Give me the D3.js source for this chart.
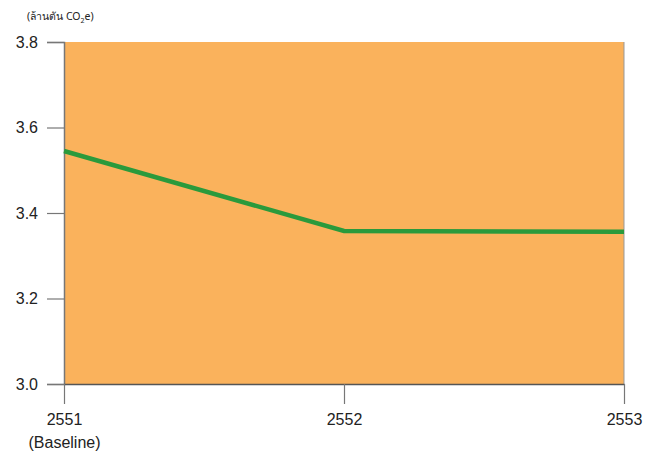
<!DOCTYPE html>
<html><head><meta charset="utf-8">
<script src="https://cdn.jsdelivr.net/npm/d3@7"></script>
<style>body{margin:0;background:#fff;} text{font-family:"Liberation Sans",Arial,sans-serif;}</style>
</head><body>
<svg id="c" width="651" height="455"></svg>
<script>
const years = ["2551","2552","2553"];
const yearSub = ["(Baseline)","",""];
const values = [3.545, 3.358, 3.356];
const yTicks = [3.0, 3.2, 3.4, 3.6, 3.8];

const svg = d3.select("#c");
const x = d3.scalePoint().domain(years).range([64, 624]);
const y = d3.scaleLinear().domain([3.0, 3.8]).range([384, 42]);

svg.append("rect").attr("x", 64).attr("y", y(3.8)).attr("width", 560).attr("height", y(3.0)-y(3.8)).attr("fill", "#FAB25C");
svg.append("line").attr("x1",624).attr("x2",624).attr("y1",y(3.8)).attr("y2",y(3.0)).attr("stroke","#999").attr("stroke-width",1);

const yAxis = svg.append("g").attr("transform","translate(64,0)")
  .call(d3.axisLeft(y).tickValues(yTicks).tickFormat(d3.format(".1f")).tickSize(17).tickPadding(9));
yAxis.select(".domain").attr("stroke","#777").attr("stroke-width",1.5);
yAxis.selectAll(".tick line").attr("stroke","#777").attr("stroke-width",1.2);
yAxis.selectAll("text").attr("font-size",16).attr("fill","#222").style("font-family","Liberation Sans, Arial, sans-serif");

const xAxis = svg.append("g").attr("transform","translate(0,384)")
  .call(d3.axisBottom(x).tickSize(20).tickPadding(10).tickSizeOuter(0));
xAxis.select(".domain").attr("stroke","#555").attr("stroke-width",1.5);
xAxis.selectAll(".tick line").attr("stroke","#777").attr("stroke-width",1.2);
xAxis.selectAll("text").attr("font-size",16).attr("fill","#222").style("font-family","Liberation Sans, Arial, sans-serif");
xAxis.selectAll(".tick").append("text").attr("y",64).attr("fill","#222").attr("font-size",16)
  .style("font-family","Liberation Sans, Arial, sans-serif")
  .text((d,i)=>yearSub[i]);

const line = d3.line().x((d,i)=>x(years[i])).y(d=>y(d));
svg.append("path").datum(values).attr("d", line).attr("fill","none").attr("stroke","#2A9A3C").attr("stroke-width",4.5);

const t = svg.append("text").attr("x",27).attr("y",20).attr("font-size",10.5).attr("fill","#222")
  .style("font-family","'Noto Sans','Liberation Sans',sans-serif");
t.append("tspan").text("(ล้านตัน CO");
t.append("tspan").attr("dy",3).attr("font-size",7).text("2");
t.append("tspan").attr("dy",-3).text("e)");
</script>
</body></html>
